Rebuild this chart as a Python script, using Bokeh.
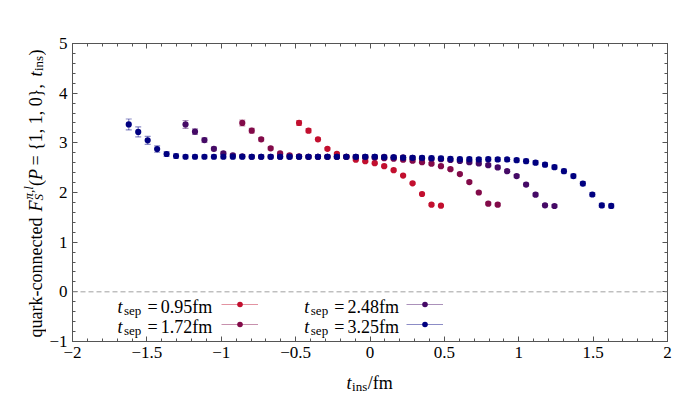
import numpy as np
from bokeh.plotting import figure
from bokeh.layouts import row, column
from bokeh.models import (Range1d, LinearAxis, SingleIntervalTicker, CustomJSTickFormatter,
                          Span, Label, Legend, LegendItem, ColumnDataSource)
from bokeh.core.properties import value
from bokeh.embed import file_html
from bokeh.resources import INLINE

# ---------------- data ----------------
a_fm = 0.0636                      # lattice spacing in fm
n_sep = [15, 27, 39, 51]           # source-sink separation in lattice units
t_sep_labels = ["0.95fm", "1.72fm", "2.48fm", "3.25fm"]
colors = ["#c20f2e", "#820a49", "#450a66", "#000080"]

F_095 = [3.40, 3.245, 3.07, 2.88, 2.78, 2.72, 2.66, 2.63, 2.59, 2.53, 2.45, 2.34,
         2.185, 1.97, 1.755, 1.735]
E_095 = [0.05, 0.04, 0.03, 0.025, 0.02, 0.02, 0.02, 0.02, 0.02, 0.02, 0.02, 0.02,
         0.02, 0.02, 0.02, 0.02]

F_172 = [3.40, 3.245, 3.07, 2.89, 2.79, 2.75, 2.73, 2.72, 2.72, 2.72, 2.72, 2.72,
         2.71, 2.71, 2.70, 2.69, 2.68, 2.66, 2.64, 2.61, 2.58, 2.53, 2.47, 2.37,
         2.21, 2.00, 1.775, 1.755]
E_172 = [0.06, 0.045, 0.035, 0.03, 0.025, 0.025, 0.025, 0.025, 0.025, 0.025, 0.025, 0.025,
         0.025, 0.025, 0.025, 0.025, 0.025, 0.025, 0.025, 0.025, 0.025, 0.025, 0.025, 0.025,
         0.025, 0.025, 0.025, 0.025]

F_248 = [3.37, 3.225, 3.055, 2.88, 2.79, 2.75, 2.73, 2.72, 2.72, 2.72, 2.72, 2.72,
         2.72, 2.72, 2.72, 2.72, 2.72, 2.72, 2.72, 2.72, 2.72, 2.72, 2.71, 2.71,
         2.70, 2.69, 2.68, 2.67, 2.655, 2.635, 2.61, 2.585, 2.55, 2.505, 2.43, 2.33,
         2.16, 1.957, 1.742, 1.728]
E_248 = [0.08, 0.055, 0.045, 0.035, 0.03, 0.03, 0.03, 0.03, 0.03, 0.03, 0.03, 0.03,
         0.03, 0.03, 0.03, 0.03, 0.03, 0.03, 0.03, 0.03, 0.03, 0.03, 0.03, 0.03,
         0.03, 0.03, 0.03, 0.03, 0.03, 0.03, 0.03, 0.03, 0.03, 0.03, 0.03, 0.03,
         0.03, 0.03, 0.03, 0.03]

F_325 = [3.37, 3.22, 3.05, 2.875, 2.775, 2.735, 2.72, 2.72, 2.72, 2.72, 2.72, 2.72,
         2.72, 2.72, 2.72, 2.72, 2.72, 2.72, 2.72, 2.72, 2.72, 2.72, 2.72, 2.72,
         2.72, 2.72, 2.72, 2.71, 2.71, 2.70, 2.70, 2.70, 2.695, 2.69, 2.68, 2.67,
         2.67, 2.665, 2.67, 2.665, 2.665, 2.65, 2.63, 2.60, 2.56, 2.51, 2.43, 2.33,
         2.18, 1.96, 1.74, 1.73]
E_325 = [0.11, 0.10, 0.08, 0.065, 0.05, 0.045, 0.04, 0.04, 0.04, 0.04, 0.04, 0.04,
         0.04, 0.04, 0.04, 0.04, 0.04, 0.04, 0.04, 0.04, 0.04, 0.04, 0.04, 0.04,
         0.04, 0.04, 0.04, 0.04, 0.04, 0.04, 0.04, 0.04, 0.04, 0.04, 0.04, 0.04,
         0.04, 0.04, 0.04, 0.04, 0.04, 0.04, 0.04, 0.04, 0.04, 0.04, 0.04, 0.04,
         0.04, 0.04, 0.04, 0.04]

series_F = [F_095, F_172, F_248, F_325]
series_E = [E_095, E_172, E_248, E_325]

# ---------------- layout geometry (page px) ----------------
W, H = 693, 416
WL = 46                    # left strip holding the y-axis title
HP = 366                   # height of main plot
FRAME_L, FRAME_R, FRAME_T, FRAME_B = 70, 667, 43, 341
FONT = "Liberation Serif"

p = figure(width=W - WL, height=HP, x_range=Range1d(-2, 2), y_range=Range1d(-1, 5),
           output_backend="svg", toolbar_location=None,
           min_border_left=FRAME_L - WL, min_border_right=W - FRAME_R,
           min_border_top=FRAME_T, min_border_bottom=HP - FRAME_B)
p.xgrid.visible = False
p.ygrid.visible = False
p.outline_line_color = "#555555"
p.outline_line_width = 1

AX = "#555555"
fmt = CustomJSTickFormatter(code="return tick < 0 ? '\\u2212' + (-tick) : '' + tick;")
blank = CustomJSTickFormatter(code="return '';")


def style_axis(ax):
    ax.axis_line_color = AX
    ax.major_tick_line_color = AX
    ax.minor_tick_line_color = AX
    ax.major_tick_in = 5
    ax.major_tick_out = 0
    ax.minor_tick_in = 3
    ax.minor_tick_out = 0
    ax.major_label_text_font = FONT
    ax.major_label_text_font_size = "17px"
    ax.major_label_text_color = "black"
    ax.axis_label = None


p.xaxis.ticker = SingleIntervalTicker(interval=0.5, num_minor_ticks=5)
p.yaxis.ticker = SingleIntervalTicker(interval=1, num_minor_ticks=5)
p.xaxis.formatter = fmt
p.yaxis.formatter = fmt
style_axis(p.xaxis[0])
style_axis(p.yaxis[0])
p.xaxis.major_label_standoff = 5
p.yaxis.major_label_standoff = 5

top_ax = LinearAxis(ticker=SingleIntervalTicker(interval=0.5, num_minor_ticks=5), formatter=blank)
right_ax = LinearAxis(ticker=SingleIntervalTicker(interval=1, num_minor_ticks=5), formatter=blank)
style_axis(top_ax)
style_axis(right_ax)
p.add_layout(top_ax, "above")
p.add_layout(right_ax, "right")

p.add_layout(Span(location=0, dimension="width", line_color="#a0a0a0",
                  line_dash="5 3", line_width=1))

seg_renderers = []
dot_renderers = []
for n, F, E, c in zip(n_sep, series_F, series_E, colors):
    k = np.arange(n + 1)
    t_ins = (k - n / 2) * a_fm
    F = np.array(F)
    E = np.array(E)
    src = ColumnDataSource(dict(x=t_ins, y=F, lo=F - E, hi=F + E))
    seg = p.segment(x0="x", y0="lo", x1="x", y1="hi", source=src,
                    line_color=c, line_alpha=0.45, line_width=1.2)
    p.scatter(x="x", y="lo", source=src, marker="dash", size=6,
              line_color=c, line_alpha=0.45, line_width=1.2)
    p.scatter(x="x", y="hi", source=src, marker="dash", size=6,
              line_color=c, line_alpha=0.45, line_width=1.2)
    dot = p.scatter(x="x", y="y", source=src, marker="circle", size=6.2,
                    fill_color=c, line_color=None)
    seg_renderers.append(seg)
    dot_renderers.append(dot)


# ---------------- legend (glyphs) ----------------
def make_legend(idx, loc):
    items = [LegendItem(label=value(" "), renderers=[seg_renderers[i], dot_renderers[i]])
             for i in idx]
    return Legend(items=items, location=loc, glyph_width=37, glyph_height=14,
                  label_height=14, label_width=0, label_standoff=0, padding=0, margin=0,
                  spacing=6, border_line_color=None, background_fill_alpha=0,
                  label_text_font_size="1px")


p.add_layout(make_legend([0, 1], (219 - FRAME_L, FRAME_B - 331)))
p.add_layout(make_legend([2, 3], (404 - FRAME_L, FRAME_B - 331)))


# ---------------- texts ----------------
def frame_text(text, px, py, size="18px", style="normal"):
    """text inside the main frame, placed in screen units relative to the frame"""
    p.add_layout(Label(x=px - FRAME_L, y=FRAME_B - py, x_units="screen", y_units="screen",
                       text=text, text_font=FONT, text_font_size=size,
                       text_font_style=style, text_color="black",
                       text_baseline="alphabetic", text_align="left"))


rows = [306, 326]
cols = [(115, 121.5, 145, 158.3), (301.7, 308.3, 331.7, 345)]
for i, lab in enumerate(t_sep_labels):
    col = cols[i // 2]
    yb = rows[i % 2]
    frame_text("t", col[0], yb, style="italic")
    frame_text("sep", col[1], yb + 3.5, size="13px")
    frame_text("=", col[2], yb)
    frame_text(lab, col[3], yb)


def strip(width, height, x0, y0):
    f = figure(width=width, height=height, x_range=Range1d(x0, x0 + width),
               y_range=Range1d(y0 + height, y0), output_backend="svg",
               toolbar_location=None, x_axis_location=None, y_axis_location=None,
               min_border=0)
    f.xgrid.visible = False
    f.ygrid.visible = False
    f.outline_line_color = None
    return f


def strip_text(f, text, px, py, size="18px", style="normal", angle=0):
    f.add_layout(Label(x=px, y=py, text=text, text_font=FONT, text_font_size=size,
                       text_font_style=style, text_color="black",
                       text_baseline="alphabetic", text_align="left",
                       angle=angle, angle_units="deg"))


# y-axis title (rotated)
left = strip(WL, H, 0, 0)
bx = 35
strip_text(left, "quark-connected", bx, 337, angle=90)
strip_text(left, "F", bx, 211, style="italic", angle=90)
strip_text(left, "π,l", bx - 7, 199, size="13px", style="italic", angle=90)
strip_text(left, "S", bx + 3, 200, size="13px", style="italic", angle=90)
strip_text(left, "(", bx, 185.5, angle=90)
strip_text(left, "P", bx, 179.5, style="italic", angle=90)
strip_text(left, " = {1, 1, 0},", bx, 165, angle=90)
strip_text(left, "t", bx, 76, style="italic", angle=90)
strip_text(left, "ins", bx + 3, 70.5, size="13px", angle=90)
strip_text(left, ")", bx, 55, angle=90)

# x-axis title
bottom = strip(W - WL, H - HP, WL, HP)
strip_text(bottom, "t", 344, 382, style="italic")
strip_text(bottom, "ins", 350, 386, size="13px")
strip_text(bottom, "/fm", 367, 382)

layout = row(left, column(p, bottom))
open("out.html", "w", encoding="utf-8").write(file_html(layout, INLINE))
